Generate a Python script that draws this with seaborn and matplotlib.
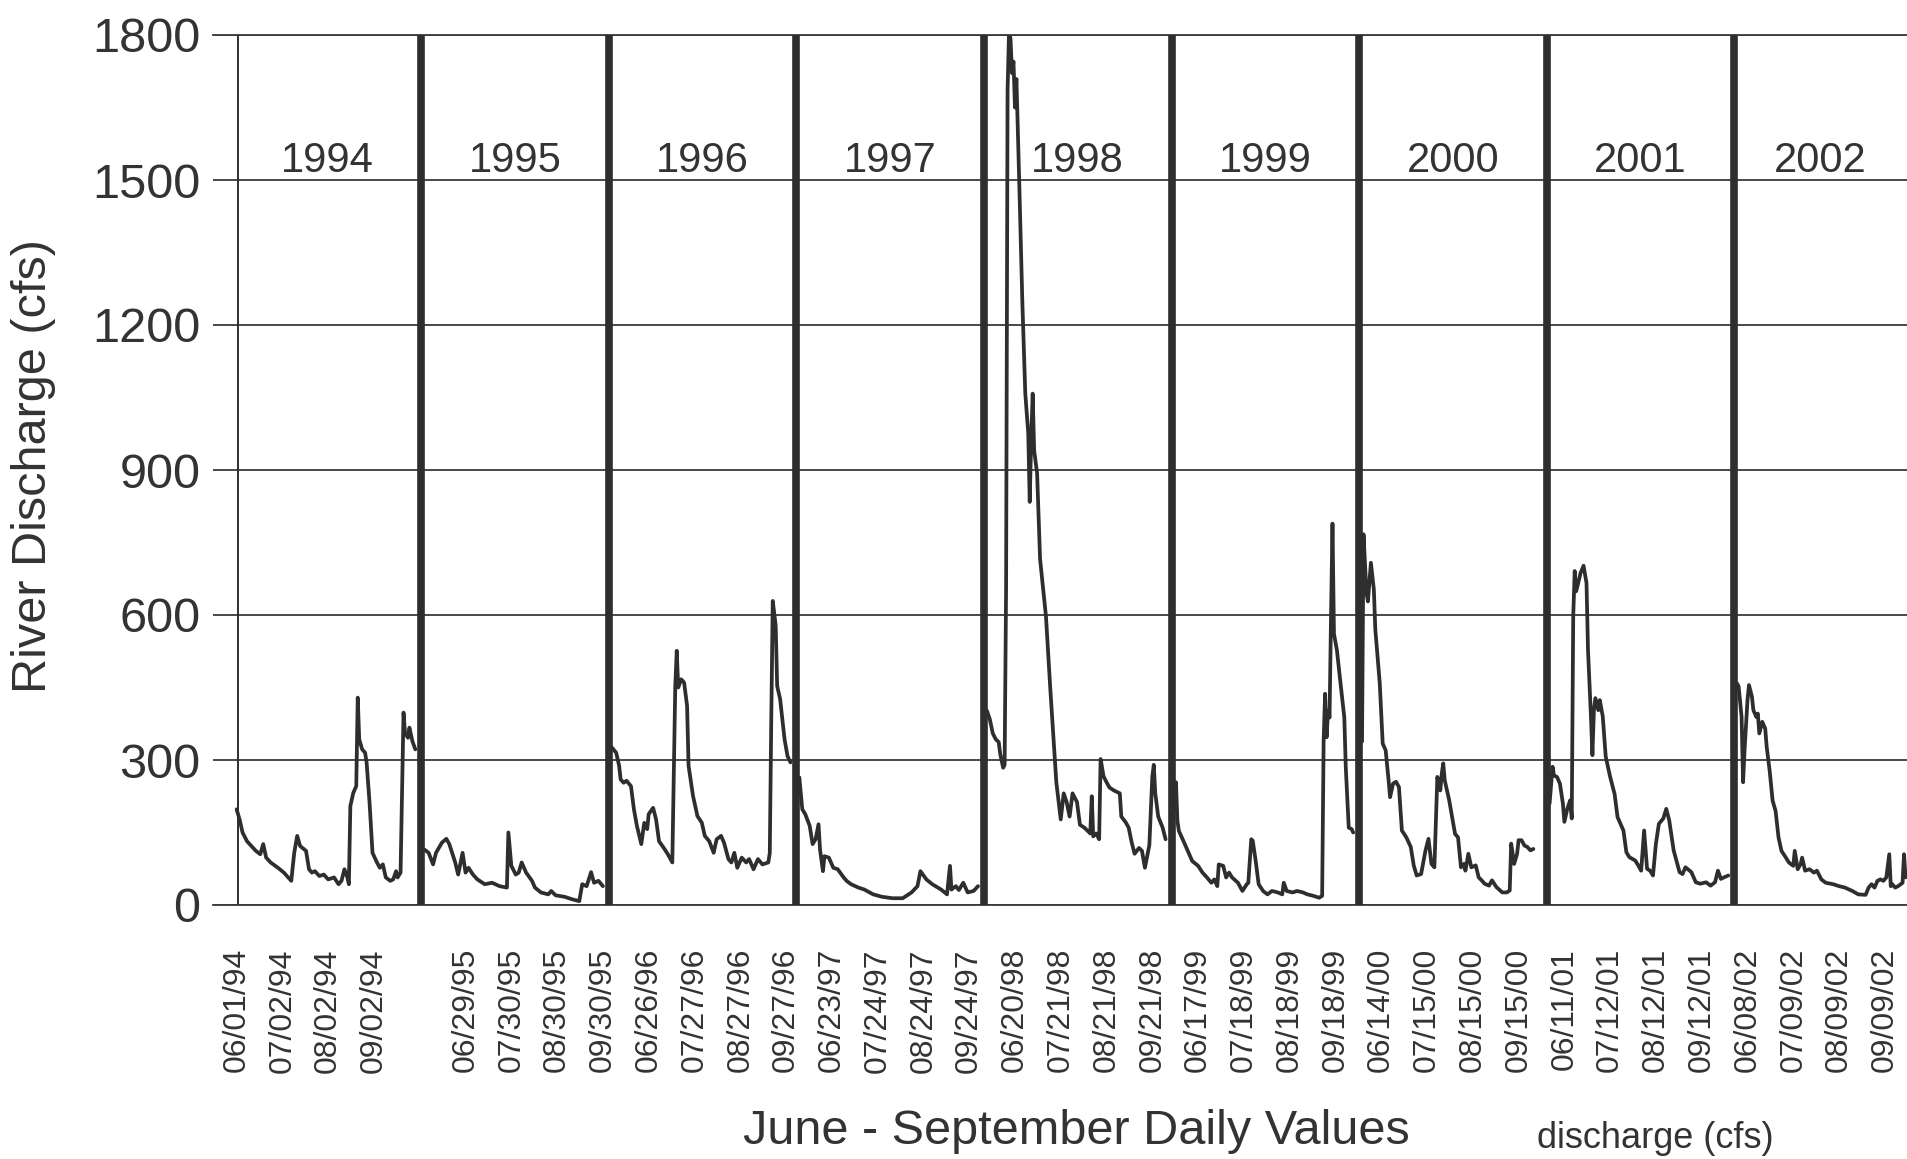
import matplotlib
matplotlib.use("Agg")
import matplotlib.pyplot as plt
import pandas as pd
import seaborn as sns
from matplotlib import font_manager

# daily discharge, June - September
# (day = days since June 1 of each year, flow in cfs)
years = ["1994", "1995", "1996", "1997", "1998", "1999", "2000", "2001", "2002"]

days_1994 = [0, 2, 4, 7, 10, 13, 16, 18, 20, 23, 28, 32, 37, 39, 41, 43, 47, 49, 51, 53, 56, 59, 62, 66, 69, 71,
             73, 75, 76, 77, 79, 81, 82, 83, 85, 87, 88, 90, 92, 95, 97, 99, 101, 104, 106, 108, 109, 111, 113, 114,
             116, 117, 119, 121]
flow_1994 = [198, 177, 150, 132, 122, 112, 105, 126, 98, 88, 77, 67, 50, 108, 143, 122, 112, 74, 67, 70, 60, 63, 53,
             57, 43, 50, 74, 57, 43, 205, 232, 246, 429, 343, 322, 315, 295, 212, 108, 88, 77, 84, 57, 50, 53, 70,
             57, 67, 398, 357, 346, 367, 339, 322]

days_1995 = [0, 3, 6, 8, 12, 15, 17, 21, 23, 26, 28, 30, 33, 36, 41, 46, 51, 56, 57, 59, 62, 64, 66, 69, 73, 75, 79,
             84, 86, 89, 95, 100, 105, 107, 110, 113, 115, 118, 121]
flow_1995 = [115, 108, 84, 108, 129, 137, 126, 88, 63, 108, 67, 77, 63, 53, 43, 46, 39, 36, 150, 81, 63, 67, 88, 67,
             50, 36, 26, 22, 29, 20, 17, 12, 8, 43, 39, 68, 46, 50, 39]

days_1996 = [0, 3, 5, 6, 8, 10, 13, 15, 17, 20, 22, 24, 25, 28, 30, 32, 35, 38, 41, 43, 44, 45, 47, 49, 51, 52, 55,
             58, 61, 63, 66, 69, 71, 74, 76, 79, 81, 83, 85, 88, 91, 93, 96, 99, 102, 106, 107, 108, 109, 111, 112,
             114, 115, 117, 119, 121]
flow_1996 = [326, 315, 288, 260, 253, 257, 246, 198, 164, 126, 170, 157, 188, 201, 177, 132, 119, 105, 88, 453, 526,
             450, 467, 460, 412, 288, 226, 184, 170, 143, 132, 108, 136, 143, 129, 95, 88, 108, 77, 98, 88, 95, 74,
             95, 84, 88, 108, 384, 629, 578, 453, 426, 398, 343, 308, 295]

days_1997 = [0, 2, 4, 7, 9, 11, 13, 14, 16, 17, 20, 23, 26, 30, 32, 35, 40, 44, 50, 56, 63, 70, 76, 80, 82, 86, 90,
             96, 100, 102, 103, 106, 108, 111, 114, 118, 121]
flow_1997 = [264, 198, 188, 164, 126, 136, 167, 115, 70, 101, 98, 77, 74, 57, 50, 43, 36, 32, 22, 17, 14, 14, 26, 39,
             70, 53, 43, 32, 22, 81, 32, 39, 31, 46, 26, 29, 39]

days_1998 = [0, 2, 4, 6, 8, 9, 11, 12, 13, 14, 15, 16, 17, 18, 19, 20, 22, 24, 26, 28, 29, 30, 31, 32, 34, 36, 40,
             43, 46, 47, 50, 52, 54, 56, 58, 61, 63, 66, 70, 71, 72, 74, 76, 77, 79, 81, 83, 86, 90, 91, 94, 96, 98,
             100, 103, 105, 107, 110, 112, 113, 114, 116, 119, 121]
flow_1998 = [402, 384, 355, 343, 337, 313, 284, 290, 656, 1685, 1810, 1792, 1721, 1745, 1650, 1709, 1484, 1248, 1058,
             976, 834, 964, 1058, 940, 893, 716, 597, 444, 302, 254, 177, 231, 213, 183, 231, 213, 166, 160, 148,
             225, 142, 148, 136, 302, 266, 254, 243, 237, 231, 183, 171, 160, 130, 106, 118, 112, 77, 124, 266, 290,
             231, 183, 160, 136]

days_1999 = [0, 1, 2, 3, 6, 9, 12, 16, 19, 22, 25, 27, 29, 30, 33, 35, 37, 39, 43, 46, 49, 50, 52, 53, 55, 57, 60,
             63, 66, 70, 73, 74, 76, 80, 83, 87, 90, 94, 98, 100, 101, 102, 103, 104, 105, 106, 107, 108, 110, 112,
             115, 116, 118, 120, 121]
flow_1999 = [195, 254, 174, 153, 133, 112, 91, 81, 67, 57, 46, 53, 39, 84, 81, 57, 67, 57, 46, 29, 43, 46, 136, 133,
             91, 43, 29, 22, 29, 26, 22, 46, 29, 26, 29, 26, 22, 19, 15, 19, 340, 437, 347, 402, 388, 596, 789, 561,
             527, 471, 388, 285, 160, 157, 150]

days_2000 = [0, 1, 3, 4, 6, 8, 9, 12, 14, 16, 18, 19, 21, 23, 25, 27, 30, 33, 35, 37, 40, 43, 45, 47, 49, 51, 53,
             54, 55, 56, 59, 61, 63, 65, 67, 69, 70, 72, 74, 77, 79, 81, 83, 86, 88, 91, 95, 98, 100, 101, 103, 105,
             106, 108, 110, 112, 114, 116]
flow_2000 = [338, 767, 646, 628, 708, 653, 570, 459, 334, 320, 258, 223, 251, 255, 244, 154, 140, 120, 82, 61, 64,
             113, 137, 85, 78, 265, 237, 272, 293, 258, 217, 182, 147, 140, 78, 85, 71, 106, 78, 82, 57, 51, 44, 40,
             51, 37, 26, 26, 30, 127, 85, 106, 134, 134, 123, 120, 113, 116]

days_2001 = [0, 2, 3, 5, 7, 9, 10, 12, 14, 15, 16, 17, 18, 21, 23, 25, 26, 28, 29, 30, 31, 33, 34, 36, 38, 41, 44,
             46, 50, 52, 54, 58, 60, 62, 64, 66, 68, 70, 72, 74, 77, 79, 81, 84, 88, 90, 92, 96, 99, 102, 106, 109,
             112, 114, 116, 118, 121]
flow_2001 = [210, 286, 268, 265, 251, 210, 172, 199, 217, 179, 597, 691, 649, 687, 702, 666, 528, 390, 310, 403, 428,
             403, 424, 390, 307, 265, 230, 182, 154, 109, 99, 92, 82, 71, 154, 75, 71, 61, 127, 168, 179, 199, 175,
             113, 68, 64, 78, 68, 47, 44, 47, 40, 47, 71, 54, 57, 61]

days_2002 = [0, 1, 3, 4, 5, 7, 8, 10, 11, 13, 14, 15, 17, 19, 20, 22, 24, 26, 28, 30, 33, 35, 38, 39, 41, 43, 44,
             46, 49, 52, 54, 57, 60, 65, 69, 73, 78, 82, 87, 89, 91, 93, 95, 97, 99, 101, 103, 104, 105, 107, 109,
             112, 113, 114, 115]
flow_2002 = [458, 452, 389, 254, 320, 424, 455, 431, 403, 389, 396, 355, 379, 365, 327, 278, 216, 195, 140, 112, 98,
             88, 81, 112, 74, 85, 98, 71, 74, 67, 71, 53, 46, 43, 39, 36, 29, 22, 21, 36, 43, 36, 50, 53, 50, 57, 105,
             39, 43, 36, 39, 46, 105, 57, 64]

day_lists = [days_1994, days_1995, days_1996, days_1997, days_1998, days_1999, days_2000, days_2001, days_2002]
flow_lists = [flow_1994, flow_1995, flow_1996, flow_1997, flow_1998, flow_1999, flow_2000, flow_2001, flow_2002]

# category axis labels, one every 31 rows (blank where the row has no date)
tick_labels = ["06/01/94", "07/02/94", "08/02/94", "09/02/94", "",
               "06/29/95", "07/30/95", "08/30/95", "09/30/95",
               "06/26/96", "07/27/96", "08/27/96", "09/27/96",
               "06/23/97", "07/24/97", "08/24/97", "09/24/97",
               "06/20/98", "07/21/98", "08/21/98", "09/21/98",
               "06/17/99", "07/18/99", "08/18/99", "09/18/99",
               "06/14/00", "07/15/00", "08/15/00", "09/15/00",
               "06/11/01", "07/12/01", "08/12/01", "09/12/01",
               "06/08/02", "07/09/02", "08/09/02", "09/09/02"]
y_ticks = [0, 300, 600, 900, 1200, 1500, 1800]

ROWS_PER_YEAR = 127   # 122 days + blank rows between seasons
TICK_EVERY = 31
X_MIN, X_MAX = -16, 1131

rows = []
for k, (yr, dd, ff) in enumerate(zip(years, day_lists, flow_lists)):
    for d, f in zip(dd, ff):
        rows.append({"year": yr, "row": k * ROWS_PER_YEAR + d, "flow": f})
df = pd.DataFrame(rows)

sns.set_style("white")
names = {f.name for f in font_manager.fontManager.ttflist}
narrow = "Liberation Sans Narrow" if "Liberation Sans Narrow" in names else None
plt.rcParams["font.family"] = ["Liberation Sans", "DejaVu Sans"]
ink = "#333333"

fig = plt.figure(figsize=(19.07, 11.59), dpi=100)
ax = fig.add_axes([213 / 1907, 1 - 905 / 1159, 1 - 213 / 1907, 870 / 1159])

sns.lineplot(data=df, x="row", y="flow", units="year", estimator=None,
             color="#2e2e2e", linewidth=2.7, legend=False, ax=ax)

# year separators: thin one at the start, thick ones in the gaps
ax.axvline(1, color="#2e2e2e", linewidth=1.4, zorder=3)
for k in range(1, len(years)):
    ax.axvline(k * ROWS_PER_YEAR - 2, color="#2e2e2e", linewidth=5.5, zorder=3)

for k, yr in enumerate(years):
    left = k * ROWS_PER_YEAR - 2
    right = min((k + 1) * ROWS_PER_YEAR - 2, X_MAX)
    ax.text((left + right) / 2, 1540, yr, ha="center", va="center", fontsize=30, color=ink)

ax.set_xlim(X_MIN, X_MAX)
ax.set_ylim(0, 1800)
ax.set_yticks(y_ticks)
ax.set_yticklabels([str(v) for v in y_ticks], fontsize=35, color=ink)
ax.set_xticks([i * TICK_EVERY for i in range(len(tick_labels))])
ax.set_xticklabels(tick_labels, rotation=90, fontsize=23, color=ink)
ax.tick_params(axis="y", length=0, pad=9)
ax.tick_params(axis="x", length=0, pad=31)
ax.yaxis.grid(True, color="#3a3a3a", linewidth=1.3)
ax.xaxis.grid(False)
for side in ["left", "right"]:
    ax.spines[side].set_visible(False)
for side in ["top", "bottom"]:
    ax.spines[side].set_color("#3a3a3a")
    ax.spines[side].set_linewidth(1.3)
ax.set_xlabel("")
ax.set_ylabel("")

fig.text(34 / 1907, 1 - 466 / 1159, "River Discharge (cfs)", rotation=90,
         ha="center", va="center", fontsize=35, color=ink)
if narrow:
    fig.text(1076 / 1907, 1 - 1131 / 1159, "June - September Daily Values",
             ha="center", va="center", fontsize=40, color=ink, family=narrow)
    fig.text(1655 / 1907, 1 - 1139 / 1159, "discharge (cfs)",
             ha="center", va="center", fontsize=31, color=ink, family=narrow)
else:
    fig.text(1076 / 1907, 1 - 1131 / 1159, "June - September Daily Values",
             ha="center", va="center", fontsize=35, color=ink)
    fig.text(1655 / 1907, 1 - 1139 / 1159, "discharge (cfs)",
             ha="center", va="center", fontsize=26, color=ink)

fig.savefig("out.png", dpi=100)
